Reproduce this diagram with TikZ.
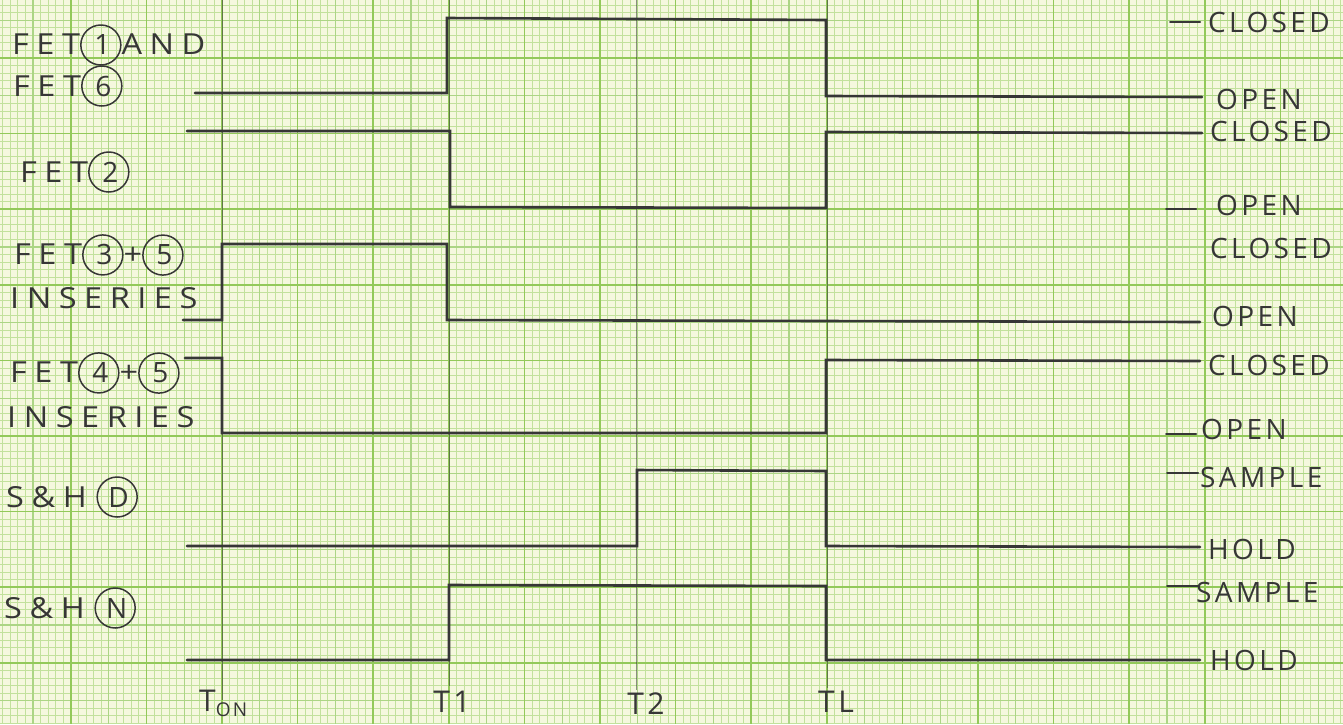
\documentclass[tikz,border=0pt]{standalone}
\usepackage{fontspec}
\newfontfamily\hand[LetterSpace=12]{Open Sans}
\newfontfamily\handw[LetterSpace=26,FakeStretch=1.12]{Open Sans}
\definecolor{paper}{HTML}{F5F8DE}
\definecolor{gminor}{HTML}{C2E19C}
\definecolor{gmed}{HTML}{ACD585}
\definecolor{gmajor}{HTML}{93C95A}
\definecolor{pencil}{HTML}{363636}
\newcommand\circd[1]{\tikz[baseline=(cc.base)]\node[draw=pencil,circle,line width=1.5pt,inner sep=0pt,minimum size=40pt,anchor=center,text=pencil,font={\hand\fontsize{28}{30}\selectfont}](cc){#1\kern-3pt};}
\begin{document}
\begin{tikzpicture}[x=1pt,y=-1pt,
  minorl/.style={gminor,line width=0.8pt},
  medl/.style={gmed,line width=1.1pt},
  majorl/.style={gmajor,line width=1.7pt},
  sig/.style={pencil,line width=2.6pt,line cap=round,line join=miter},
  tick/.style={pencil,line width=2pt,line cap=round},
  tline/.style={pencil,line width=1pt,opacity=0.55},
  lbl/.style={anchor=west,text=pencil,inner sep=0pt,font={\hand\fontsize{28}{30}\selectfont}},
  llbl/.style={anchor=west,text=pencil,inner sep=0pt,font={\handw\fontsize{29}{30}\selectfont}},
  tlbl/.style={anchor=center,text=pencil,inner sep=0pt,font={\hand\fontsize{30}{32}\selectfont}}]
\fill[paper] (0,0) rectangle (1343,724);
\useasboundingbox (0,0) rectangle (1343,724);
% grid
\foreach \i in {0,...,180} {\draw[minorl] ({-4.8+7.56*\i},0) -- ({-4.8+7.56*\i},724);}
\foreach \j in {0,...,100} {\draw[minorl] (0,{-17.6+7.56*\j}) -- (1343,{-17.6+7.56*\j});}
\foreach \i in {0,5,...,180} {\draw[medl] ({-4.8+7.56*\i},0) -- ({-4.8+7.56*\i},724);}
\foreach \j in {0,5,...,100} {\draw[medl] (0,{-17.6+7.56*\j}) -- (1343,{-17.6+7.56*\j});}
\foreach \i in {0,10,...,180} {\draw[majorl] ({-4.8+7.56*\i},0) -- ({-4.8+7.56*\i},724);}
\foreach \j in {0,10,...,100} {\draw[majorl] (0,{-17.6+7.56*\j}) -- (1343,{-17.6+7.56*\j});}
% time lines
\coordinate (tontop) at (222,0); \coordinate (tonbot) at (222,700);
\coordinate (t1top) at (449,0);  \coordinate (t1bot) at (449,686);
\coordinate (t2top) at (636,0);  \coordinate (t2bot) at (636,690);
\coordinate (tltop) at (827,0);  \coordinate (tlbot) at (827,688);
\draw[tline] (tontop) -- (tonbot);
\draw[tline] (t1top) -- (t1bot);
\draw[tline] (t2top) -- (t2bot);
\draw[tline] (tltop) -- (tlbot);
% signals
\draw[sig] (195,93) -- (447,93) -- (447,18) -- (826,20) -- (826,96) -- (1202,97);
\draw[sig] (187,131) -- (450,131) -- (450,207) -- (826,208) -- (826,132) -- (1202,133);
\draw[sig] (183,320) -- (222,320) -- (222,244) -- (447,244) -- (447,320) -- (1200,322);
\draw[sig] (185,358) -- (222,358) -- (222,433) -- (826,433) -- (826,360) -- (1200,361);
\draw[sig] (187,546) -- (637,546) -- (637,470) -- (826,471) -- (826,546) -- (1200,547);
\draw[sig] (187,660) -- (449,660) -- (449,585) -- (826,586) -- (826,660) -- (1200,660);
% ticks
\draw[tick] (1170,22) -- (1200,22);
\draw[tick] (1166,209) -- (1196,209);
\draw[tick] (1166,434) -- (1196,434);
\draw[tick] (1167,473) -- (1198,473);
\draw[tick] (1167,586) -- (1198,586);
% left labels
\node[llbl] (l1a) at (12,45) {FET\circd{1}AND};
\node[llbl] (l1b) at (13,86) {FET\circd{6}};
\node[llbl] (l2) at (20,172) {FET\circd{2}};
\node[llbl] (l3a) at (14,255) {FET\circd{3}+\circd{5}};
\node[llbl] (l3b) at (10,298) {INSERIES};
\node[llbl] (l4a) at (10,373) {FET\circd{4}+\circd{5}};
\node[llbl] (l4b) at (7,417) {INSERIES};
\node[llbl] (l5) at (6,497) {S\&H\,\,\circd{D}};
\node[llbl] (l6) at (4,608) {S\&H\,\,\circd{N}};
% right labels
\node[lbl] (r1a) at (1208,22) {CLOSED};
\node[lbl] (r1b) at (1216,99) {OPEN};
\node[lbl] (r2a) at (1210,131) {CLOSED};
\node[lbl] (r2b) at (1216,205) {OPEN};
\node[lbl] (r3a) at (1210,248) {CLOSED};
\node[lbl] (r3b) at (1212,316) {OPEN};
\node[lbl] (r4a) at (1208,365) {CLOSED};
\node[lbl] (r4b) at (1201,429) {OPEN};
\node[lbl] (r5a) at (1200,477) {SAMPLE};
\node[lbl] (r5b) at (1208,549) {HOLD};
\node[lbl] (r6a) at (1196,592) {SAMPLE};
\node[lbl] (r6b) at (1210,660) {HOLD};
% bottom labels
\node[lbl,font={\hand\fontsize{30}{32}\selectfont}] (ton) at (199,703) {T\raisebox{-5pt}{\fontsize{19}{19}\selectfont ON}};
\node[tlbl] (t1) at (452,702) {T1};
\node[tlbl] (t2) at (646,704) {T2};
\node[tlbl] (tl) at (836,702) {TL};
\end{tikzpicture}
\end{document}
